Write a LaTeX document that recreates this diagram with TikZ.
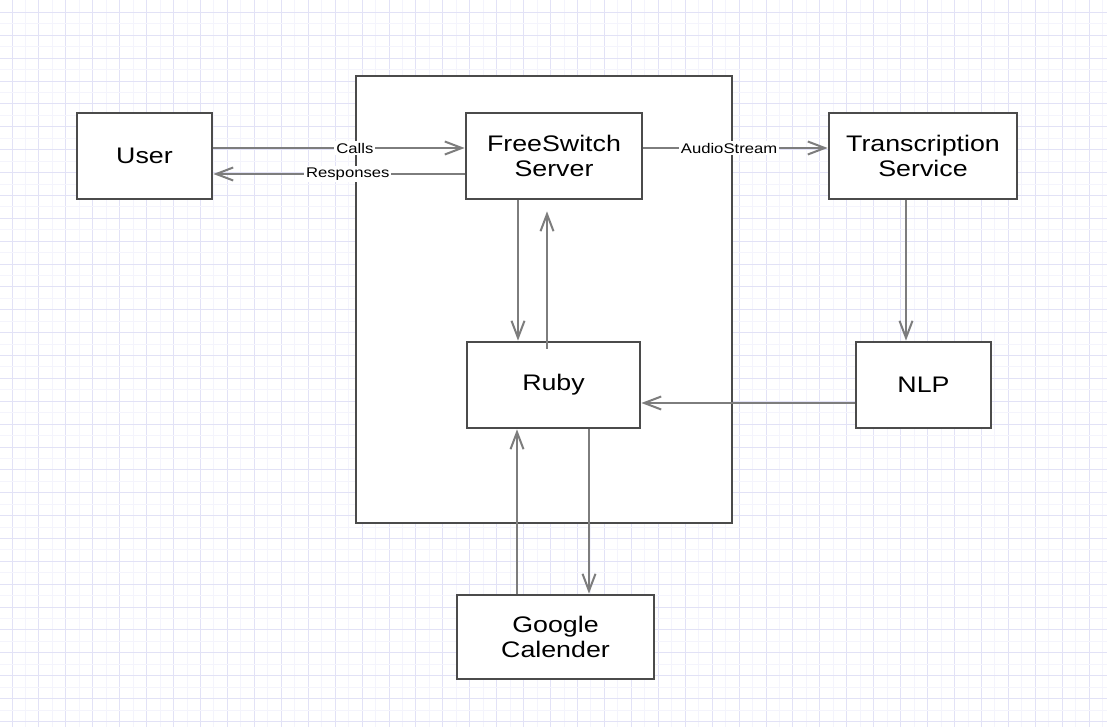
\documentclass[tikz,border=0pt]{standalone}
\usepackage{fontspec}
\setmainfont{Liberation Sans}[FakeStretch=1.19]
\usetikzlibrary{arrows.meta}
\definecolor{gridmaj}{RGB}{226,226,246}
\definecolor{gridmin}{RGB}{244,244,252}
\definecolor{boxline}{RGB}{75,75,75}
\definecolor{arrline}{RGB}{125,125,125}
\begin{document}
\begin{tikzpicture}[x=1pt,y=-1pt,
  blk/.style={draw=boxline,line width=2.8pt,fill=white,font=\fontsize{22.5}{25}\selectfont,align=center,inner sep=0pt},
  conn/.style={draw=arrline,line width=2pt,-{Straight Barb[length=17pt,width=13pt]}},
  lbl/.style={fill=white,text=black,font=\fontsize{14}{16}\selectfont,inner sep=2pt}]
\useasboundingbox (0,0) rectangle (1107,727);
\fill[white] (0,0) rectangle (1107,727);
% grid
\foreach \i in {0,...,41} {
  \pgfmathsetmacro{\gx}{round(11.5+26.93*\i)+0.5}
  \pgfmathsetmacro{\hx}{round(11.5+26.93*\i+13.47)+0.5}
  \draw[gridmin,line width=1pt] (\hx,0) -- ++(0,727);
  \draw[gridmaj,line width=1pt] (\gx,0) -- ++(0,727);
}
\foreach \j in {0,...,31} {
  \pgfmathsetmacro{\gy}{round(12+22.87*\j)+0.5}
  \pgfmathsetmacro{\hy}{round(12+22.87*\j+11.43)+0.5}
  \draw[gridmin,line width=1pt] (0,\hy) -- ++(1107,0);
  \draw[gridmaj,line width=1pt] (0,\gy) -- ++(1107,0);
}
% container
\node[draw=boxline,line width=2.8pt,fill=white,minimum width=376pt,minimum height=447pt,inner sep=0pt] (srv) at (544,299.5) {};
% boxes
\node[blk,minimum width=135pt,minimum height=86pt] (user) at (144.5,156) {User};
\node[blk,minimum width=176pt,minimum height=86pt] (fs) at (554,156) {FreeSwitch\\Server};
\node[blk,minimum width=188pt,minimum height=86pt] (ts) at (923,156) {Transcription\\Service};
\node[blk,minimum width=173pt,minimum height=86pt] (ruby) at (553.5,385) {Ruby};
\node[blk,minimum width=135pt,minimum height=86pt] (nlp) at (923.5,385) {NLP};
\node[blk,minimum width=197pt,minimum height=84pt] (gc) at (555.5,637) {Google\\Calender};
% connectors
\draw[conn] ([yshift=8pt]user.east) -- node[lbl,pos=0.563]{Calls} ([yshift=8pt]fs.west);
\draw[conn] ([yshift=-18pt]fs.west) -- node[lbl,pos=0.465]{Responses} ([yshift=-18pt]user.east);
\draw[conn] ([yshift=8pt]fs.east) -- node[lbl,pos=0.465]{AudioStream} ([yshift=8pt]ts.west);
\draw[conn] ([xshift=-36pt]fs.south) -- ([xshift=-35.5pt]ruby.north);
\draw[conn,shorten <=-8pt,shorten >=11pt] ([xshift=-6.5pt]ruby.north) -- ([xshift=-7pt]fs.south);
\draw[conn] ([xshift=-17pt]ts.south) -- ([xshift=-17.5pt]nlp.north);
\draw[conn] ([yshift=-18pt]nlp.west) -- ([yshift=-18pt]ruby.east);
\draw[conn] ([xshift=-38.5pt]gc.north) -- ([xshift=-36.5pt]ruby.south);
\draw[conn] ([xshift=35.5pt]ruby.south) -- ([xshift=33.5pt]gc.north);
\end{tikzpicture}
\end{document}
